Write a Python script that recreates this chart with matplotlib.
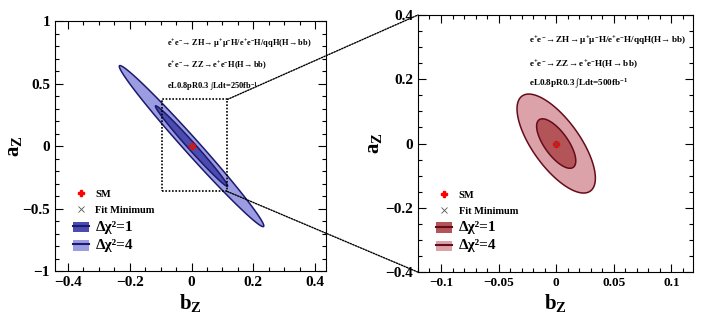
import numpy as np
import matplotlib
matplotlib.use("Agg")
import matplotlib.pyplot as plt
from matplotlib.patches import Patch, ConnectionPatch
from matplotlib.lines import Line2D
from matplotlib.ticker import MultipleLocator

plt.rcParams['font.family'] = ['Liberation Serif', 'DejaVu Serif']
plt.rcParams['font.weight'] = 'bold'
plt.rcParams['mathtext.fontset'] = 'custom'
plt.rcParams['mathtext.rm'] = 'Liberation Serif:bold'
plt.rcParams['mathtext.bf'] = 'Liberation Serif:bold'
plt.rcParams['mathtext.it'] = 'Liberation Serif:bold'

# fit results (centre, widths, correlation) for each setup
fit_250 = dict(b0=0.0, a0=0.0, sig_b=0.117, sig_a=0.322, rho=-0.990)
fit_500 = dict(b0=0.0, a0=0.0, sig_b=0.017, sig_a=0.077, rho=-0.70)
sm_point = (0.0, 0.0)
dchi2_levels = [4, 1]

# zoom box drawn on the left panel
zoom_b = [-0.097, 0.116]
zoom_a = [-0.363, 0.373]

text_250 = [r'$\mathbf{e^{+}e^{-}\!\rightarrow ZH\!\rightarrow \mu^{+}\mu^{-}H/e^{+}e^{-}H/qqH(H\!\rightarrow bb)}$',
            r'$\mathbf{e^{+}e^{-}\!\rightarrow ZZ\!\rightarrow e^{+}e^{-}H(H\!\rightarrow bb)}$',
            r'eL0.8pR0.3 $\int$Ldt=250fb$^{-1}$']
text_500 = [r'$\mathbf{e^{+}e^{-}\!\rightarrow ZH\!\rightarrow \mu^{+}\mu^{-}H/e^{+}e^{-}H/qqH(H\!\rightarrow bb)}$',
            r'$\mathbf{e^{+}e^{-}\!\rightarrow ZZ\!\rightarrow e^{+}e^{-}H(H\!\rightarrow bb)}$',
            r'eL0.8pR0.3 $\int$Ldt=500fb$^{-1}$']


def contour(fit, dchi2, n=400):
    t = np.linspace(0, 2 * np.pi, n)
    cov = np.array([[fit['sig_b'] ** 2, fit['rho'] * fit['sig_b'] * fit['sig_a']],
                    [fit['rho'] * fit['sig_b'] * fit['sig_a'], fit['sig_a'] ** 2]])
    L = np.linalg.cholesky(cov)
    pts = L @ np.vstack([np.cos(t), np.sin(t)]) * np.sqrt(dchi2)
    return pts[0] + fit['b0'], pts[1] + fit['a0']


def draw_panel(ax, fit, fills, edge, texts, tx, ty, tsize, ylpad, xlsize):
    for lev, fc in zip(dchi2_levels, fills):
        b, a = contour(fit, lev)
        ax.fill(b, a, facecolor=fc, edgecolor=edge, lw=1.1, zorder=2)
    ax.plot(*sm_point, marker='P', color='red', ms=4, ls='none', zorder=5)
    ax.plot(fit['b0'], fit['a0'], marker='x', color='#555555', ms=4, mew=0.6, ls='none', zorder=6)
    for s, y in zip(texts, ty):
        ax.text(tx, y, s, fontsize=tsize, fontweight='bold', zorder=4)

    handles = [Line2D([], [], marker='P', color='red', ms=4, ls='none'),
               Line2D([], [], marker='x', color='#555555', ms=5, mew=0.6, ls='none'),
               (Patch(facecolor=fills[1], edgecolor='none'), Line2D([], [], color=edge, lw=1.5)),
               (Patch(facecolor=fills[0], edgecolor='none'), Line2D([], [], color=edge, lw=1.5))]
    labels = ['SM', 'Fit Minimum', '\u0394\u03c7\u00b2=1', '\u0394\u03c7\u00b2=4']
    leg = ax.legend(handles, labels, loc='lower left', bbox_to_anchor=(0.03, 0.04),
                    frameon=False, handlelength=1.6, handleheight=1.2,
                    handletextpad=0.6, labelspacing=0.5, fontsize=7.5)
    for t in leg.get_texts()[2:]:
        t.set_fontsize(11)

    ax.tick_params(which='both', direction='in', top=True, right=True, labelsize=11, width=0.8)
    ax.tick_params(axis='x', labelsize=xlsize)
    ax.tick_params(which='major', length=6)
    ax.tick_params(which='minor', length=3)
    for lab in ax.get_xticklabels() + ax.get_yticklabels():
        lab.set_fontweight('bold')
    ax.set_xlabel(r'$\mathbf{b_{Z}}$', fontsize=15, labelpad=2)
    ax.set_ylabel(r'$\mathbf{a_{Z}}$', fontsize=15, labelpad=ylpad)


def fmt(v, pos):
    s = ('%g' % v)
    return s.replace('-', '\u2212')


fig = plt.figure(figsize=(7.06, 3.19), dpi=100)
ax1 = fig.add_axes([0.078, 0.150, 0.384, 0.784])
ax2 = fig.add_axes([0.592, 0.147, 0.390, 0.806])

ax1.set_xlim(-0.442, 0.436)
ax1.set_ylim(-1, 1)
ax1.xaxis.set_major_locator(MultipleLocator(0.2))
ax1.xaxis.set_minor_locator(MultipleLocator(0.05))
ax1.yaxis.set_major_locator(MultipleLocator(0.5))
ax1.yaxis.set_minor_locator(MultipleLocator(0.1))

ax2.set_xlim(-0.12, 0.119)
ax2.set_ylim(-0.4, 0.4)
ax2.xaxis.set_major_locator(MultipleLocator(0.05))
ax2.xaxis.set_minor_locator(MultipleLocator(0.01))
ax2.yaxis.set_major_locator(MultipleLocator(0.2))
ax2.yaxis.set_minor_locator(MultipleLocator(0.05))

for ax in (ax1, ax2):
    ax.xaxis.set_major_formatter(fmt)
    ax.yaxis.set_major_formatter(fmt)

draw_panel(ax1, fit_250, ['#9c9ce2', '#4b4bb0'], '#1a1a6e', text_250, -0.078, [0.8, 0.63, 0.46], 6.0, -1, 11)
draw_panel(ax2, fit_500, ['#dca2aa', '#b25458'], '#650c18', text_500, -0.024, [0.31, 0.24, 0.18], 6.6, 1, 9.5)

# zoom box + connectors
ax1.plot([zoom_b[0], zoom_b[1], zoom_b[1], zoom_b[0], zoom_b[0]],
         [zoom_a[0], zoom_a[0], zoom_a[1], zoom_a[1], zoom_a[0]],
         color='black', ls=(0, (1, 1)), lw=1.2, zorder=3)
for ya, yb in [(zoom_a[1], 1), (zoom_a[0], 0)]:
    con = ConnectionPatch(xyA=(zoom_b[1], ya), coordsA=ax1.transData,
                          xyB=(0, yb), coordsB=ax2.transAxes,
                          color='black', ls=(0, (1, 1)), lw=1.0)
    fig.add_artist(con)

fig.savefig('out.png', dpi=100)
